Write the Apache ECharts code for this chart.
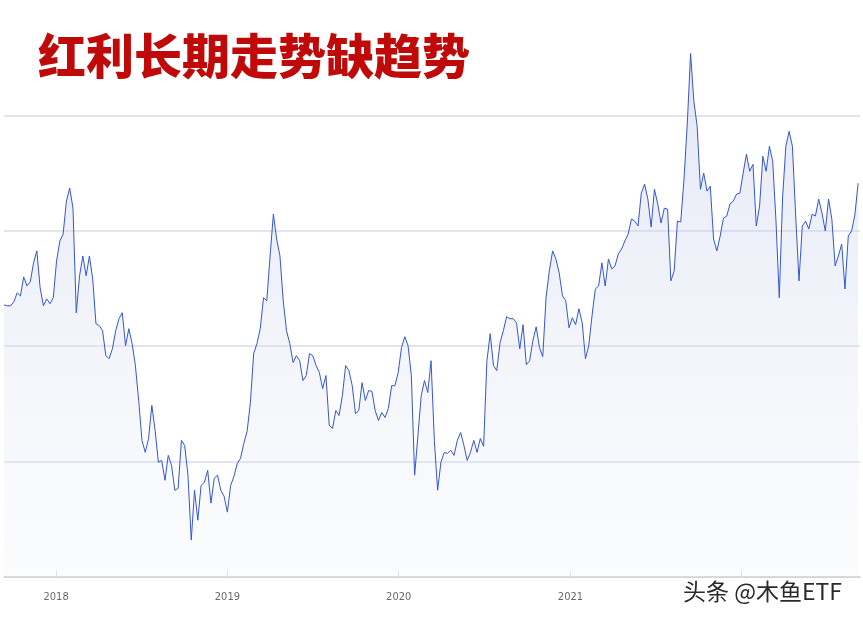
<!DOCTYPE html>
<html><head><meta charset="utf-8">
<script src="https://cdn.jsdelivr.net/npm/echarts@6/dist/echarts.min.js"></script>
<style>html,body{margin:0;padding:0;background:#fff}#c{width:863px;height:620px}</style>
</head><body><div id="c"></div>
<script>
const titleText = '红利长期走势缺趋势';
const watermarkText = '头条 @木鱼ETF';
const startDate = '2017-09-12';
const endDate = '2022-09-10';
const stepDays = 7;
const yMin = 3000, yMax = 5500, yInterval = 500;
const values = [
4179,4175,4175,4192,4231,4218,4300,4261,4279,4361,
4413,4253,4175,4205,4184,4210,4369,4456,4486,4629,
4685,4598,4145,4305,4391,4305,4391,4292,4097,4089,
4067,3959,3946,3989,4067,4119,4145,4002,4076,4011,
3916,3765,3592,3540,3600,3743,3635,3497,3505,3419,
3527,3484,3376,3384,3592,3570,3441,3160,3376,3246,
3397,3410,3462,3320,3428,3441,3376,3350,3281,3397,
3436,3492,3514,3579,3631,3756,3968,4011,4076,4210,
4197,4391,4572,4464,4391,4197,4067,4011,3929,3959,
3937,3851,3873,3968,3959,3916,3886,3816,3873,3657,
3644,3721,3700,3786,3916,3894,3829,3708,3721,3842,
3765,3808,3804,3721,3678,3713,3691,3730,3829,3829,
3886,3994,4041,4002,3873,3441,3613,3786,3851,3799,
3937,3592,3376,3497,3540,3536,3549,3527,3592,3626,
3570,3505,3540,3592,3540,3600,3566,3937,4054,3916,
3894,4015,4067,4128,4119,4119,4102,3989,4093,3920,
3937,4024,4084,3994,3955,4210,4326,4413,4378,4318,
4218,4197,4080,4123,4093,4162,4102,3946,4002,4132,
4248,4261,4361,4261,4378,4335,4348,4400,4421,4456,
4486,4551,4542,4521,4663,4702,4637,4516,4680,4616,
4534,4598,4594,4283,4326,4542,4538,4724,4966,5268,
5061,4953,4680,4750,4672,4693,4464,4413,4477,4555,
4564,4616,4629,4659,4663,4750,4832,4758,4788,4521,
4607,4823,4758,4866,4801,4542,4210,4642,4866,4931,
4866,4564,4283,4521,4542,4508,4572,4564,4637,4577,
4499,4637,4551,4348,4391,4443,4248,4477,4499,4568,
4706
];

const DAY = 86400000;
const t0 = new Date(startDate + 'T00:00:00').getTime();
const seriesData = values.map((v, i) => [t0 + i * stepDays * DAY, v]);

const chart = echarts.init(document.getElementById('c'), null, {renderer: 'canvas'});
chart.setOption({
  animation: false,
  backgroundColor: '#ffffff',
  grid: {left: 4, right: 3, top: -2, bottom: 43, containLabel: false},
  xAxis: {
    type: 'time',
    min: new Date(startDate + 'T00:00:00').getTime(),
    max: new Date(endDate + 'T00:00:00').getTime(),
    minInterval: 365 * DAY,
    maxInterval: 366 * DAY,
    axisLine: {show: true, lineStyle: {color: '#d0d0d0', width: 1.5}},
    axisTick: {show: true, inside: true, length: 6, lineStyle: {color: '#dddddd'}},
    splitLine: {show: false},
    axisLabel: {
      formatter: '{yyyy}',
      color: '#6a6a6a',
      fontSize: 11,
      fontFamily: '"Liberation Sans Narrow", "DejaVu Sans Condensed", sans-serif',
      margin: 15,
      hideOverlap: false
    }
  },
  yAxis: {
    type: 'value',
    min: yMin, max: yMax, interval: yInterval,
    axisLabel: {show: false},
    axisTick: {show: false},
    axisLine: {show: false},
    splitLine: {show: true, showMaxLine: false, lineStyle: {color: '#e1e5ef', width: 2}}
  },
  series: [{
    type: 'line',
    data: seriesData,
    showSymbol: false,
    symbol: 'none',
    lineStyle: {color: '#3556d2', width: 1},
    areaStyle: {
      color: new echarts.graphic.LinearGradient(0, 0, 0, 1, [
        {offset: 0, color: 'rgba(190,200,230,0.62)'},
        {offset: 1, color: 'rgba(236,240,248,0.3)'}
      ])
    }
  }],
  graphic: [
    {
      type: 'text', left: 38, top: 32, z: 10,
      style: {
        text: titleText,
        fill: '#c00a0a',
        font: '900 48px "Noto Sans CJK SC", sans-serif'
      }
    },
    {
      type: 'text', left: 681, top: 578, z: 10,
      style: {
        text: watermarkText,
        fill: '#2a2a2a',
        font: '400 23px "Noto Sans CJK SC", sans-serif',
        backgroundColor: '#ffffff',
        padding: [2, 2, 2, 2]
      }
    }
  ]
});
</script>
</body></html>
